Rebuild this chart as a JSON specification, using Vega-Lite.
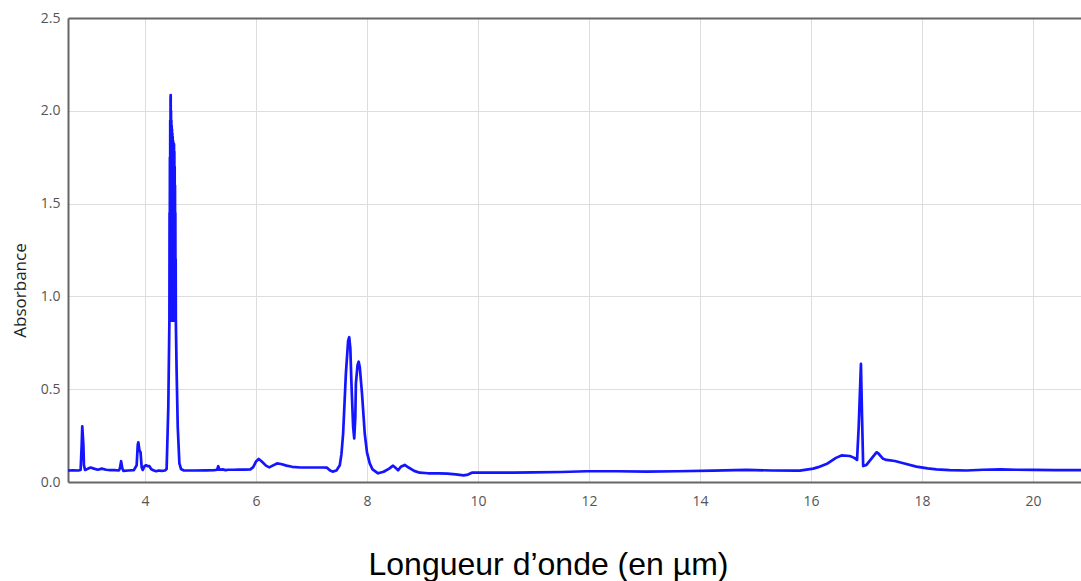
{
  "$schema": "https://vega.github.io/schema/vega-lite/v6.json",
  "width": 1013,
  "height": 464,
  "autosize": {"type": "none"},
  "padding": {"left": 68, "top": 18, "right": 0, "bottom": 99},
  "background": "white",
  "config": {
    "view": {"stroke": null},
    "axis": {"labelFont": "Open Sans", "labelFontSize": 14, "labelColor": "#555555", "gridColor": "#dddddd", "gridWidth": 1, "domainColor": "#666666", "domainWidth": 2, "ticks": false}
  },
  "data": {"values": [
    {"x": 2.613, "y": 0.062}, {"x": 2.70, "y": 0.063}, {"x": 2.80, "y": 0.062}, {"x": 2.84, "y": 0.065},
    {"x": 2.86, "y": 0.20}, {"x": 2.87, "y": 0.30}, {"x": 2.88, "y": 0.25}, {"x": 2.89, "y": 0.20},
    {"x": 2.90, "y": 0.09}, {"x": 2.92, "y": 0.065}, {"x": 2.96, "y": 0.070}, {"x": 3.02, "y": 0.078},
    {"x": 3.08, "y": 0.072}, {"x": 3.15, "y": 0.066}, {"x": 3.22, "y": 0.072}, {"x": 3.30, "y": 0.066},
    {"x": 3.38, "y": 0.064}, {"x": 3.45, "y": 0.064}, {"x": 3.53, "y": 0.062}, {"x": 3.55, "y": 0.075},
    {"x": 3.57, "y": 0.112}, {"x": 3.59, "y": 0.075}, {"x": 3.61, "y": 0.060}, {"x": 3.70, "y": 0.062},
    {"x": 3.80, "y": 0.064}, {"x": 3.85, "y": 0.09}, {"x": 3.87, "y": 0.20}, {"x": 3.88, "y": 0.214},
    {"x": 3.90, "y": 0.17}, {"x": 3.92, "y": 0.16}, {"x": 3.94, "y": 0.08}, {"x": 3.96, "y": 0.065},
    {"x": 3.99, "y": 0.085}, {"x": 4.02, "y": 0.09}, {"x": 4.05, "y": 0.085}, {"x": 4.08, "y": 0.085},
    {"x": 4.11, "y": 0.07}, {"x": 4.15, "y": 0.063}, {"x": 4.20, "y": 0.058}, {"x": 4.25, "y": 0.062},
    {"x": 4.30, "y": 0.060}, {"x": 4.36, "y": 0.062}, {"x": 4.39, "y": 0.07}, {"x": 4.42, "y": 0.4},
    {"x": 4.440, "y": 0.87}, {"x": 4.443, "y": 1.45}, {"x": 4.446, "y": 0.9}, {"x": 4.449, "y": 1.75},
    {"x": 4.452, "y": 0.88}, {"x": 4.455, "y": 1.95}, {"x": 4.458, "y": 0.9}, {"x": 4.461, "y": 2.06},
    {"x": 4.4635, "y": 2.085}, {"x": 4.466, "y": 0.88}, {"x": 4.469, "y": 2.0}, {"x": 4.472, "y": 0.87},
    {"x": 4.475, "y": 1.95}, {"x": 4.478, "y": 0.88}, {"x": 4.481, "y": 1.92}, {"x": 4.484, "y": 0.87},
    {"x": 4.487, "y": 1.9}, {"x": 4.490, "y": 0.88}, {"x": 4.493, "y": 1.88}, {"x": 4.496, "y": 0.87},
    {"x": 4.499, "y": 1.86}, {"x": 4.502, "y": 0.88}, {"x": 4.505, "y": 1.84}, {"x": 4.508, "y": 0.87},
    {"x": 4.511, "y": 1.83}, {"x": 4.514, "y": 0.88}, {"x": 4.517, "y": 1.82}, {"x": 4.520, "y": 0.87},
    {"x": 4.523, "y": 1.82}, {"x": 4.526, "y": 0.88}, {"x": 4.529, "y": 1.78}, {"x": 4.532, "y": 0.87},
    {"x": 4.535, "y": 1.7}, {"x": 4.538, "y": 0.88}, {"x": 4.541, "y": 1.6}, {"x": 4.544, "y": 0.87},
    {"x": 4.547, "y": 1.45}, {"x": 4.550, "y": 0.88}, {"x": 4.553, "y": 1.2}, {"x": 4.556, "y": 0.87},
    {"x": 4.57, "y": 0.6}, {"x": 4.59, "y": 0.3}, {"x": 4.62, "y": 0.1},
    {"x": 4.65, "y": 0.07}, {"x": 4.70, "y": 0.062}, {"x": 4.75, "y": 0.062}, {"x": 4.9, "y": 0.062},
    {"x": 5.1, "y": 0.063}, {"x": 5.25, "y": 0.064}, {"x": 5.30, "y": 0.066}, {"x": 5.32, "y": 0.085},
    {"x": 5.34, "y": 0.066}, {"x": 5.40, "y": 0.068}, {"x": 5.45, "y": 0.064}, {"x": 5.50, "y": 0.066},
    {"x": 5.6, "y": 0.066}, {"x": 5.7, "y": 0.067}, {"x": 5.8, "y": 0.067}, {"x": 5.9, "y": 0.068},
    {"x": 5.95, "y": 0.08}, {"x": 6.00, "y": 0.11}, {"x": 6.05, "y": 0.124}, {"x": 6.10, "y": 0.112},
    {"x": 6.18, "y": 0.088}, {"x": 6.24, "y": 0.079}, {"x": 6.30, "y": 0.088}, {"x": 6.38, "y": 0.100},
    {"x": 6.45, "y": 0.097}, {"x": 6.55, "y": 0.088}, {"x": 6.65, "y": 0.082}, {"x": 6.8, "y": 0.078},
    {"x": 7.0, "y": 0.078}, {"x": 7.2, "y": 0.078}, {"x": 7.28, "y": 0.077}, {"x": 7.33, "y": 0.063},
    {"x": 7.38, "y": 0.056}, {"x": 7.45, "y": 0.062}, {"x": 7.51, "y": 0.09}, {"x": 7.54, "y": 0.15},
    {"x": 7.57, "y": 0.26}, {"x": 7.62, "y": 0.585}, {"x": 7.66, "y": 0.76}, {"x": 7.68, "y": 0.78},
    {"x": 7.70, "y": 0.72}, {"x": 7.72, "y": 0.53}, {"x": 7.75, "y": 0.30}, {"x": 7.77, "y": 0.235},
    {"x": 7.79, "y": 0.35}, {"x": 7.80, "y": 0.53}, {"x": 7.83, "y": 0.63}, {"x": 7.85, "y": 0.648},
    {"x": 7.87, "y": 0.62}, {"x": 7.91, "y": 0.478}, {"x": 7.96, "y": 0.26}, {"x": 8.00, "y": 0.16},
    {"x": 8.05, "y": 0.10}, {"x": 8.10, "y": 0.068}, {"x": 8.20, "y": 0.047}, {"x": 8.30, "y": 0.055},
    {"x": 8.40, "y": 0.072}, {"x": 8.47, "y": 0.088}, {"x": 8.52, "y": 0.075}, {"x": 8.56, "y": 0.063},
    {"x": 8.61, "y": 0.082}, {"x": 8.68, "y": 0.092}, {"x": 8.75, "y": 0.078}, {"x": 8.85, "y": 0.060},
    {"x": 8.95, "y": 0.050}, {"x": 9.10, "y": 0.047}, {"x": 9.30, "y": 0.047}, {"x": 9.45, "y": 0.045},
    {"x": 9.60, "y": 0.041}, {"x": 9.74, "y": 0.036}, {"x": 9.82, "y": 0.040}, {"x": 9.89, "y": 0.050},
    {"x": 10.2, "y": 0.050}, {"x": 10.64, "y": 0.050}, {"x": 11.0, "y": 0.052}, {"x": 11.5, "y": 0.054},
    {"x": 11.96, "y": 0.058}, {"x": 12.5, "y": 0.058}, {"x": 13.04, "y": 0.056}, {"x": 13.6, "y": 0.058},
    {"x": 14.24, "y": 0.061}, {"x": 14.84, "y": 0.065}, {"x": 15.3, "y": 0.062}, {"x": 15.74, "y": 0.061},
    {"x": 15.80, "y": 0.061}, {"x": 16.04, "y": 0.072}, {"x": 16.13, "y": 0.080}, {"x": 16.3, "y": 0.100},
    {"x": 16.45, "y": 0.130}, {"x": 16.55, "y": 0.143}, {"x": 16.70, "y": 0.140}, {"x": 16.78, "y": 0.130},
    {"x": 16.83, "y": 0.119}, {"x": 16.86, "y": 0.30}, {"x": 16.90, "y": 0.636}, {"x": 16.92, "y": 0.35},
    {"x": 16.94, "y": 0.086}, {"x": 17.00, "y": 0.092}, {"x": 17.10, "y": 0.13}, {"x": 17.18, "y": 0.160},
    {"x": 17.21, "y": 0.155}, {"x": 17.30, "y": 0.125}, {"x": 17.36, "y": 0.119}, {"x": 17.51, "y": 0.113},
    {"x": 17.70, "y": 0.098}, {"x": 17.90, "y": 0.083}, {"x": 18.1, "y": 0.073}, {"x": 18.26, "y": 0.068},
    {"x": 18.5, "y": 0.064}, {"x": 18.80, "y": 0.062}, {"x": 19.1, "y": 0.066}, {"x": 19.41, "y": 0.068},
    {"x": 19.7, "y": 0.066}, {"x": 20.0, "y": 0.065}, {"x": 20.4, "y": 0.064}, {"x": 20.865, "y": 0.064}
  ]},
  "resolve": {"axis": {"x": "independent"}},
  "layer": [
    {
      "mark": {"type": "line", "color": "#1414ff", "strokeWidth": 2.7, "strokeJoin": "round", "clip": true},
      "encoding": {
        "x": {"field": "x", "type": "quantitative", "scale": {"domain": [2.613, 20.865], "nice": false, "zero": false},
          "axis": {"orient": "bottom", "values": [4, 6, 8, 10, 12, 14, 16, 18, 20], "labelPadding": 12,
            "title": "Longueur d\u2019onde (en \u00b5m)", "titleFont": "Liberation Sans", "titleFontSize": 32, "titleFontWeight": "normal", "titleColor": "#000000",
            "titleX": 480, "titleY": 92, "titleAlign": "center", "titleBaseline": "alphabetic"}},
        "y": {"field": "y", "type": "quantitative", "scale": {"domain": [0, 2.5], "nice": false},
          "axis": {"values": [0, 0.5, 1, 1.5, 2, 2.5], "format": ".1f", "labelPadding": 8,
            "title": "Absorbance", "titleFont": "Open Sans", "titleFontSize": 17, "titleFontWeight": "normal", "titleColor": "#222222",
            "titleX": -48, "titleY": 272, "titleAngle": -90, "titleAlign": "center", "titleBaseline": "middle"}}
      }
    },
    {
      "mark": {"type": "line", "opacity": 0},
      "encoding": {
        "x": {"field": "x", "type": "quantitative",
          "axis": {"orient": "top", "labels": false, "grid": false, "title": null, "ticks": false}}
      }
    }
  ]
}
